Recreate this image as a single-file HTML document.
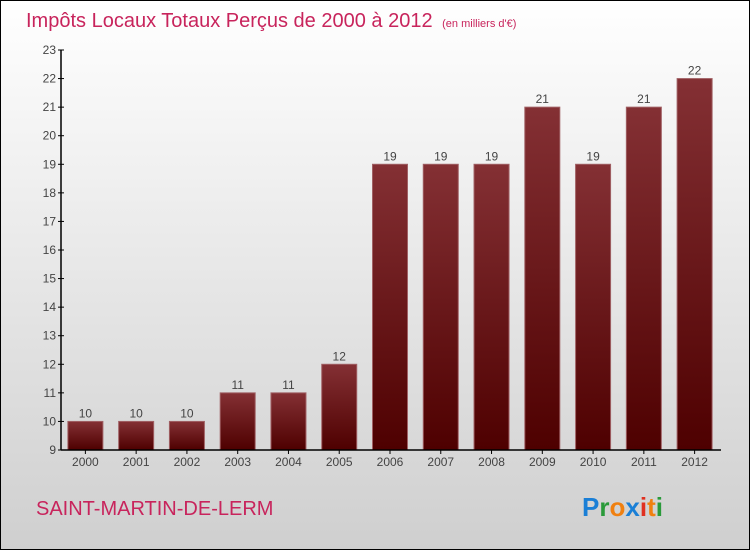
<!DOCTYPE html>
<html><head><meta charset="utf-8"><style>
body{margin:0;width:750px;height:550px;overflow:hidden}
svg{display:block}
text{font-family:"Liberation Sans",sans-serif}
</style></head><body>
<svg width="750" height="550" id="c">
<defs>
<linearGradient id="bg" x1="0" y1="0" x2="0" y2="1"><stop offset="0" stop-color="#ffffff"/><stop offset="1" stop-color="#cfcfcf"/></linearGradient>
<linearGradient id="bar" x1="0" y1="0" x2="0" y2="1"><stop offset="0" stop-color="#843034"/><stop offset="1" stop-color="#4e0000"/></linearGradient>
</defs>
<rect x="0.5" y="0.5" width="749" height="549" fill="url(#bg)" stroke="#000"/>
<text x="26" y="27" font-size="20" fill="#c8245c">Impôts Locaux Totaux Perçus de 2000 à 2012 <tspan font-size="11" dx="4">(en milliers d'€)</tspan></text>
<text x="36" y="515" font-size="20" fill="#c8245c">SAINT-MARTIN-DE-LERM</text>
<g font-size="26" font-weight="bold">
<text x="582" y="516"><tspan fill="#1a7fd6">P</tspan><tspan fill="#2a9a3a">r</tspan><tspan fill="#f08010">o</tspan><tspan fill="#1a7fd6">x</tspan><tspan fill="#e03020">i</tspan><tspan fill="#f08010">t</tspan><tspan fill="#2a9a3a">i</tspan></text>
</g>
<g id="plot"></g>
</svg>
<script>
const categories=["2000","2001","2002","2003","2004","2005","2006","2007","2008","2009","2010","2011","2012"];
const values=[10,10,10,11,11,12,19,19,19,21,19,21,22];
const yTicks=[9,10,11,12,13,14,15,16,17,18,19,20,21,22,23];
const ns="http://www.w3.org/2000/svg";
const g=document.getElementById('plot');
const y0=450,y1=50,vmin=9,vmax=23,x0=61,x1=721;
const y=v=>y0-(v-vmin)/(vmax-vmin)*(y0-y1);
const step=(x1-x0)/categories.length;
const xc=i=>x0+step*(i+0.5)-1;
function el(t,a,p){const e=document.createElementNS(ns,t);for(const k in a)e.setAttribute(k,a[k]);(p||g).appendChild(e);return e;}
yTicks.forEach(t=>{
 const l=el('line',{x1:x0-3,x2:x0+3,y1:y(t),y2:y(t),stroke:'#000'});
 
 
 const tx=el('text',{x:x0-5,y:y(t)+4,'font-size':12,fill:'#444','text-anchor':'end'});
 tx.textContent=t;
 
 
});
values.forEach((v,i)=>{
 const w=35,cx=xc(i);
 const r=el('rect',{x:cx-w/2,y:y(v),width:w,height:y0-y(v),fill:'url(#bar)',stroke:'#a06064','stroke-width':1});
 
 
 const t=el('text',{x:cx,y:y(v)-4,'font-size':12,fill:'#444','text-anchor':'middle'});
 t.textContent=v;
 
 
 const tk=el('line',{x1:cx,x2:cx,y1:y0,y2:y0+4,stroke:'#000'});
 
 
 const c=el('text',{x:cx,y:y0+16,'font-size':12,fill:'#444','text-anchor':'middle'});
 c.textContent=categories[i];
 
 
});
const ya=el('line',{x1:x0,x2:x0,y1:y1,y2:y0,stroke:'#000','stroke-width':1.5});


const xa=el('line',{x1:x0,x2:x1,y1:y0,y2:y0,stroke:'#000','stroke-width':1.5});


</script>
</body></html>
